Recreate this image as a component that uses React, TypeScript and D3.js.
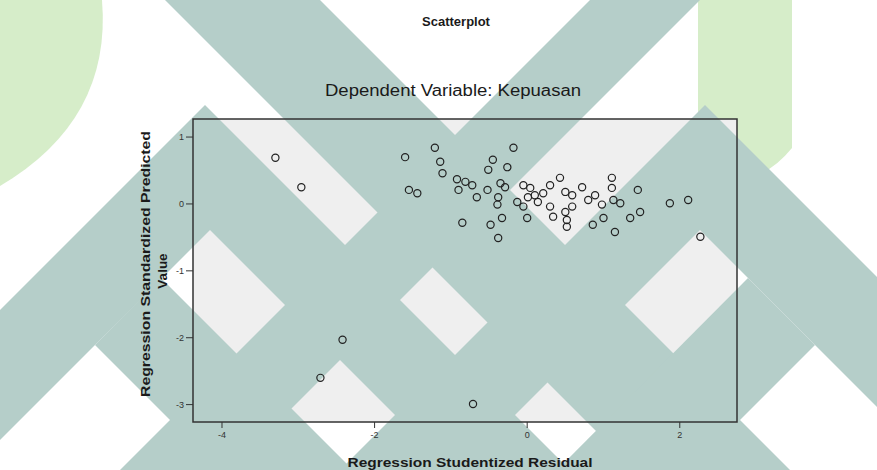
import React from "react";
import * as d3 from "d3";

// Regression Studentized Residual (x) and Regression Standardized Predicted Value (y)
const residual = [
  -3.3, -2.96, -1.6, -1.55, -1.44, -1.21, -1.14, -1.11, -0.92, -0.9, -0.81, -0.72, -0.66,
  -0.85, -0.52, -0.45, -0.51, -0.26, -0.18, -0.35, -0.29, -0.38, -0.39, -0.48, -0.33, -0.38,
  -0.13, -0.05, 0.0, -0.05, 0.04, 0.1, 0.01, 0.14, 0.21, 0.3, 0.3, 0.34, 0.43, 0.5, 0.59,
  0.59, 0.5, 0.52, 0.52, 0.72, 0.8, 0.89, 0.98, 1.0, 0.86, 1.11, 1.11, 1.13, 1.22, 1.35,
  1.15, 1.48, 1.45, 1.87, 2.11, 2.27, -2.42, -2.71, -0.71,
];
const predicted = [
  0.69, 0.25, 0.7, 0.21, 0.16, 0.84, 0.63, 0.46, 0.37, 0.21, 0.33, 0.28, 0.1,
  -0.28, 0.21, 0.66, 0.51, 0.55, 0.84, 0.31, 0.25, 0.1, -0.01, -0.31, -0.21, -0.51,
  0.03, -0.04, -0.21, 0.28, 0.24, 0.13, 0.1, 0.03, 0.16, 0.28, -0.04, -0.19, 0.39, 0.18, 0.13,
  -0.04, -0.12, -0.24, -0.34, 0.25, 0.06, 0.13, -0.01, -0.21, -0.31, 0.39, 0.24, 0.06, 0.01, -0.21,
  -0.42, -0.12, 0.21, 0.01, 0.06, -0.49, -2.03, -2.6, -2.99,
];
const xTicks = [-4, -2, 0, 2];
const yTicks = [1, 0, -1, -2, -3];

const W = 877;
const H = 470;
const plot = { left: 193, right: 737, top: 119, bottom: 422 };
const font = "'Liberation Sans', Arial, sans-serif";
const teal = "#b5cec9";

// watermark logo shapes (page decoration, not data)
const watermark = [
  "165,0 320,0 790,470 635,470",
  "590,0 700,0 230,470 120,470",
  "205,105 570,470 450,470 210,230 0,440 0,310",
  "161,278 95,345 220,470 353,470",
  "705,105 340,470 460,470 700,230 910,440 910,310",
  "748,278 815,345 690,470 557,470",
];

export default function App() {
  const x = d3.scaleLinear().domain([-4.38, 2.75]).range([plot.left, plot.right]);
  const y = d3.scaleLinear().domain([-3.26, 1.27]).range([plot.bottom, plot.top]);
  const pts = residual.map((r, i) => ({ r, p: predicted[i] }));

  return (
    <svg width={W} height={H} style={{ position: "absolute", left: 0, top: 0 }}>
      <rect width={W} height={H} fill="#ffffff" />
      <path d="M0,0 L102,0 Q112,120 0,186 Z" fill="#d6edc9" />
      <path d="M698,0 L792,0 L792,148 Q745,205 698,148 Z" fill="#d6edc9" />

      <rect
        x={plot.left}
        y={plot.top}
        width={plot.right - plot.left}
        height={plot.bottom - plot.top}
        fill="#efefef"
      />

      <g fill={teal}>
        {watermark.map((p, i) => (
          <polygon key={i} points={p} />
        ))}
      </g>

      <rect
        x={plot.left}
        y={plot.top}
        width={plot.right - plot.left}
        height={plot.bottom - plot.top}
        fill="none"
        stroke="#333"
        strokeWidth={1.5}
      />

      <g fontFamily={font} fontSize={9} fill="#333">
        {yTicks.map((t) => (
          <g key={"y" + t}>
            <line x1={plot.left - 7} x2={plot.left} y1={y(t)} y2={y(t)} stroke="#333" />
            <text x={plot.left - 9} y={y(t)} dy="0.35em" textAnchor="end">
              {t}
            </text>
          </g>
        ))}
        {xTicks.map((t) => (
          <g key={"x" + t}>
            <line x1={x(t)} x2={x(t)} y1={plot.bottom} y2={plot.bottom + 6} stroke="#333" />
            <text x={x(t)} y={plot.bottom + 16} textAnchor="middle">
              {t}
            </text>
          </g>
        ))}
      </g>

      <g fill="none" stroke="#222" strokeWidth={1.2}>
        {pts.map((d, i) => (
          <circle key={i} cx={x(d.r)} cy={y(d.p)} r={3.6} />
        ))}
      </g>

      <g fontFamily={font} fill="#1a1a1a">
        <text x={456} y={26} textAnchor="middle" fontSize={13} fontWeight="bold">
          Scatterplot
        </text>
        <text x={453} y={96} textAnchor="middle" fontSize={16} textLength={256} lengthAdjust="spacingAndGlyphs">
          Dependent Variable: Kepuasan
        </text>
        <text x={470} y={467} textAnchor="middle" fontSize={13.5} fontWeight="bold" textLength={245} lengthAdjust="spacingAndGlyphs">
          Regression Studentized Residual
        </text>
        <text
          transform="translate(150,264) rotate(-90)"
          textAnchor="middle"
          fontSize={13.5}
          fontWeight="bold"
          textLength={266}
          lengthAdjust="spacingAndGlyphs"
        >
          Regression Standardized Predicted
        </text>
        <text transform="translate(167,271) rotate(-90)" textAnchor="middle" fontSize={13.5} fontWeight="bold">
          Value
        </text>
      </g>
    </svg>
  );
}
